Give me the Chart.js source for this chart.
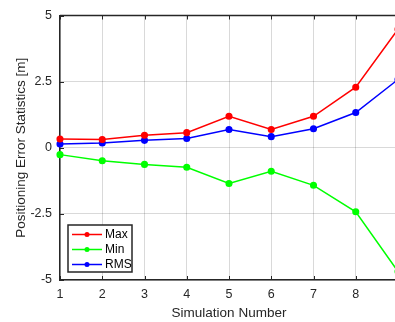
<!DOCTYPE html>
<html lang="en">
<head>
  <meta charset="UTF-8" />
  <title>Positioning Error Statistics</title>
  <script src="https://cdn.jsdelivr.net/npm/chart.js"></script>
  <style>
    html, body { margin: 0; padding: 0; background: #fff; overflow: hidden; }
    #wrap { position: relative; width: 420px; height: 322px; }
  </style>
</head>
<body>
  <div id="wrap"><canvas id="errChart"></canvas></div>

  <script>
    // data
    const simulations = [1, 2, 3, 4, 5, 6, 7, 8, 9];
    const maxErr = [0.33, 0.31, 0.47, 0.57, 1.19, 0.69, 1.19, 2.29, 4.48];
    const minErr = [-0.26, -0.49, -0.63, -0.74, -1.35, -0.89, -1.42, -2.42, -4.68];
    const rmsErr = [0.14, 0.18, 0.28, 0.35, 0.69, 0.42, 0.72, 1.33, 2.58];
    const yTicks = [-5, -2.5, 0, 2.5, 5];

    const axisColor = "#262626";
    const family = "Arial, 'Liberation Sans', Helvetica, sans-serif";
    const font = { family: family, size: 12.5 };
    const titleFont = { family: family, size: 13.5 };

    function series(label, values, color) {
      return {
        label: label,
        data: simulations.map((s, i) => ({ x: s, y: values[i] })),
        borderColor: color,
        backgroundColor: color,
        borderWidth: 1.5,
        pointRadius: 2.8,
        pointStyle: "circle",
        tension: 0,
        clip: false,
      };
    }

    // MATLAB-ish box: inward ticks, top border and legend inside the axes
    const matlabBox = {
      id: "matlabBox",
      afterDraw(chart) {
        const c = chart.ctx;
        const a = chart.chartArea;
        const xs = chart.scales.x;
        const ys = chart.scales.y;
        c.save();
        c.strokeStyle = axisColor;
        c.lineWidth = 1;
        c.beginPath();
        xs.ticks.forEach(t => {
          const px = Math.round(xs.getPixelForValue(t.value)) + 0.5;
          c.moveTo(px, a.bottom); c.lineTo(px, a.bottom - 4);
          c.moveTo(px, a.top); c.lineTo(px, a.top + 4);
        });
        ys.ticks.forEach(t => {
          const py = Math.round(ys.getPixelForValue(t.value)) + 0.5;
          c.moveTo(a.left, py); c.lineTo(a.left + 4, py);
        });
        c.stroke();
        c.lineWidth = 1.5;
        c.beginPath();
        c.moveTo(a.left, a.top);
        c.lineTo(a.right, a.top);
        c.stroke();

        // legend
        const bx = 68, by = 225, bw = 64, bh = 47;
        c.fillStyle = "#fff";
        c.fillRect(bx, by, bw, bh);
        c.lineWidth = 1.5;
        c.strokeStyle = axisColor;
        c.strokeRect(bx, by, bw, bh);
        c.font = "12px " + family;
        c.textBaseline = "middle";
        chart.data.datasets.forEach((ds, i) => {
          const y = by + 9.5 + i * 15;
          c.strokeStyle = ds.borderColor;
          c.lineWidth = 1.5;
          c.beginPath();
          c.moveTo(bx + 4, y); c.lineTo(bx + 34, y);
          c.stroke();
          c.fillStyle = ds.borderColor;
          c.beginPath();
          c.arc(bx + 19, y, 2.5, 0, Math.PI * 2);
          c.fill();
          c.fillStyle = "#000";
          c.fillText(ds.label, bx + 37, y + 0.5);
        });
        c.restore();
      },
    };

    new Chart(document.getElementById("errChart"), {
      type: "line",
      data: {
        datasets: [
          series("Max", maxErr, "#ff0000"),
          series("Min", minErr, "#00ff00"),
          series("RMS", rmsErr, "#0000ff"),
        ],
      },
      options: {
        responsive: true,
        maintainAspectRatio: false,
        animation: false,
        layout: { padding: { top: 15, right: 22, left: 0, bottom: 0 } },
        plugins: { legend: { display: false }, tooltip: { enabled: false } },
        scales: {
          x: {
            type: "linear",
            min: 1,
            max: 9,
            afterFit(s) { s.height = 42; },
            border: { display: true, color: axisColor, width: 1.5 },
            grid: { color: "rgba(0,0,0,0.15)", drawTicks: false },
            ticks: {
              stepSize: 1,
              padding: 7,
              color: axisColor,
              font: font,
              callback: v => (v <= 8 ? v : ""),
            },
            title: {
              display: true,
              text: "Simulation Number",
              color: axisColor,
              font: titleFont,
              padding: { top: 2, bottom: 1 },
            },
          },
          y: {
            min: -5,
            max: 5,
            afterFit(s) { s.width = 60; },
            afterBuildTicks(s) { s.ticks = yTicks.map(v => ({ value: v })); },
            border: { display: true, color: axisColor, width: 1.5 },
            grid: { color: "rgba(0,0,0,0.15)", drawTicks: false },
            ticks: { padding: 8, color: axisColor, font: font },
            title: {
              display: true,
              text: "Positioning Error Statistics [m]",
              color: axisColor,
              font: titleFont,
              padding: { top: 13, bottom: 0 },
            },
          },
        },
      },
      plugins: [matlabBox],
    });
  </script>
</body>
</html>
